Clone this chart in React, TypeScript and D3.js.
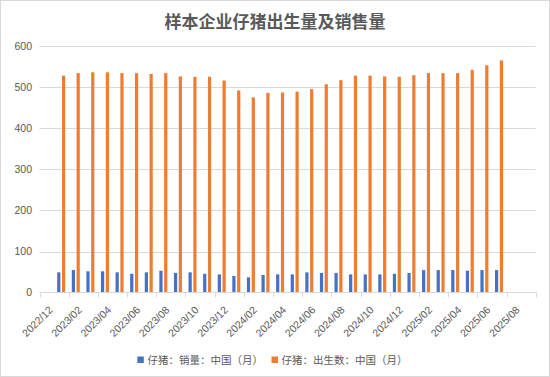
import React from "react";
import * as d3 from "d3";

const axisCategories = [
  "2022/12","2023/01","2023/02","2023/03","2023/04","2023/05","2023/06","2023/07","2023/08","2023/09","2023/10","2023/11","2023/12",
  "2024/01","2024/02","2024/03","2024/04","2024/05","2024/06","2024/07","2024/08","2024/09","2024/10","2024/11","2024/12",
  "2025/01","2025/02","2025/03","2025/04","2025/05","2025/06","2025/07","2025/08","2025/09",
];

const dataMonths = [
  "2023/01","2023/02","2023/03","2023/04","2023/05","2023/06","2023/07","2023/08","2023/09","2023/10","2023/11","2023/12",
  "2024/01","2024/02","2024/03","2024/04","2024/05","2024/06","2024/07","2024/08","2024/09","2024/10","2024/11","2024/12",
  "2025/01","2025/02","2025/03","2025/04","2025/05","2025/06","2025/07",
];

const salesValues = [
  49.5, 55, 52, 52, 49.5, 46, 49.5, 53.5, 48, 49.5, 46, 44.5,
  40.5, 37.5, 43, 44.5, 44.5, 49.5, 48, 48, 44.5, 44.5, 44.5, 46,
  48, 55, 55, 55, 53.5, 55, 55,
];

const birthValues = [
  528, 534, 536, 536, 534, 534, 532, 534, 526, 525, 525, 516,
  492, 475, 486, 487, 489, 495, 507, 517, 528, 528, 526, 525,
  529, 534, 534, 534, 542, 553, 565,
];

const tickLabels = [
  "2022/12","2023/02","2023/04","2023/06","2023/08","2023/10","2023/12",
  "2024/02","2024/04","2024/06","2024/08","2024/10","2024/12",
  "2025/02","2025/04","2025/06","2025/08",
];

const yTicks = [0, 100, 200, 300, 400, 500, 600];

const titleText = "样本企业仔猪出生量及销售量";
const seriesNames = ["仔猪：销量：中国（月）", "仔猪：出生数：中国（月）"];
const colors = ["#4472C4", "#ED7D31"];

const W = 550;
const H = 377;
const numFont = "'Liberation Sans', Arial, 'Noto Sans CJK SC', sans-serif";
const cjkFont = "'Noto Sans CJK SC', 'Liberation Sans', sans-serif";

export default function App() {
  const x = d3.scaleBand<string>().domain(axisCategories).range([39.5, 535.7]).padding(0);
  const y = d3.scaleLinear().domain([0, 600]).range([292.7, 46]);
  const bw = x.bandwidth();
  const barW = 3.2;
  const center = (m: string) => (x(m) as number) + bw / 2;

  const tickPositions = d3.range(0, axisCategories.length + 1, 2).map((i) => 39.5 + i * bw);

  return (
    <svg width={W} height={H} style={{ position: "absolute", left: 0, top: 0, background: "#fff" }}>
      <rect x={0.5} y={0.5} width={W - 1} height={H - 1} fill="#fff" stroke="#d9d9d9" />
      <text x={275} y={20} textAnchor="middle" dominantBaseline="central" fontFamily={cjkFont}
        fontWeight="bold" fontSize={17} fill="#595959">{titleText}</text>

      {yTicks.map((t) => (
        <g key={t}>
          {t > 0 && <line x1={39.5} x2={535.7} y1={Math.round(y(t)) + 0.5} y2={Math.round(y(t)) + 0.5} stroke="#d9d9d9" />}
          <text x={32} y={y(t)} dy="0.35em" textAnchor="end" fontFamily={numFont} fontSize={10.5} fill="#595959">{t}</text>
        </g>
      ))}

      {dataMonths.map((m, i) => (
        <g key={m}>
          <rect x={center(m) - 4.2} y={y(salesValues[i])} width={barW} height={y(0) - y(salesValues[i])} fill={colors[0]} />
          <rect x={center(m) + 0.6} y={y(birthValues[i])} width={barW} height={y(0) - y(birthValues[i])} fill={colors[1]} />
        </g>
      ))}

      <line x1={39.5} x2={535.7} y1={292.5} y2={292.5} stroke="#d9d9d9" />
      {tickPositions.map((p, i) => (
        <line key={i} x1={Math.round(p) + 0.5} x2={Math.round(p) + 0.5} y1={292.5} y2={297.5} stroke="#d9d9d9" />
      ))}

      {tickLabels.map((lab) => {
        const cx = center(lab) + 4;
        const cy = 308;
        return (
          <text key={lab} transform={`translate(${cx},${cy}) rotate(-45)`} textAnchor="end" dy="0.35em"
            fontFamily={numFont} fontSize={10.5} fill="#595959">{lab}</text>
        );
      })}

      <g>
        <rect x={137.3} y={356.5} width={6.5} height={6.5} fill={colors[0]} />
        <text x={147.5} y={360} dy="0.35em" fontFamily={cjkFont} fontSize={10.5} fill="#595959">{seriesNames[0]}</text>
        <rect x={271.5} y={356.5} width={6.5} height={6.5} fill={colors[1]} />
        <text x={281.5} y={360} dy="0.35em" fontFamily={cjkFont} fontSize={10.5} fill="#595959">{seriesNames[1]}</text>
      </g>
    </svg>
  );
}
